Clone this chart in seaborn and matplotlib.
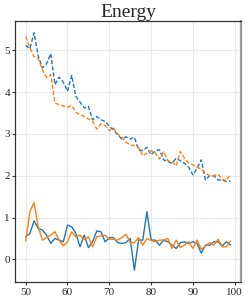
import numpy as np
import pandas as pd
import seaborn as sns
import matplotlib
matplotlib.use("Agg")
import matplotlib.pyplot as plt

steps = list(range(50, 100))

# upper pair (dashed)
blue_dashed = [5.12, 5.04, 5.42, 4.86, 4.58, 4.68, 4.92, 4.18, 4.36, 4.24,
               4.02, 4.40, 3.90, 3.76, 3.62, 3.66, 3.34, 3.42, 3.34, 3.30,
               3.18, 3.10, 2.98, 2.88, 2.93, 2.88, 2.92, 2.62, 2.60, 2.68,
               2.50, 2.60, 2.62, 2.38, 2.34, 2.30, 2.42, 2.36, 2.30, 2.20,
               2.02, 2.18, 2.38, 1.90, 2.00, 2.00, 1.90, 1.90, 1.86, 1.87]
orange_dashed = [5.33, 5.06, 4.85, 4.80, 4.54, 4.35, 4.42, 3.74, 3.70, 3.67,
                 3.64, 3.68, 3.52, 3.46, 3.42, 3.36, 3.30, 3.12, 3.24, 3.20,
                 3.08, 3.14, 3.00, 2.92, 2.80, 2.74, 2.72, 2.68, 2.48, 2.54,
                 2.60, 2.55, 2.40, 2.58, 2.36, 2.34, 2.24, 2.58, 2.42, 2.30,
                 2.26, 2.20, 2.16, 2.06, 2.00, 2.00, 2.04, 1.92, 1.88, 2.04]

# lower pair (solid)
blue_solid = [0.54, 0.62, 0.92, 0.74, 0.70, 0.58, 0.38, 0.50, 0.46, 0.42,
              0.82, 0.78, 0.62, 0.30, 0.58, 0.28, 0.42, 0.68, 0.66, 0.42,
              0.52, 0.52, 0.40, 0.38, 0.40, 0.50, -0.26, 0.46, 0.46, 1.14,
              0.46, 0.46, 0.34, 0.46, 0.42, 0.34, 0.26, 0.40, 0.42, 0.38,
              0.42, 0.38, 0.15, 0.34, 0.34, 0.42, 0.42, 0.32, 0.42, 0.34]
orange_solid = [0.44, 1.14, 1.36, 0.78, 0.46, 0.52, 0.58, 0.66, 0.46, 0.32,
                0.42, 0.66, 0.54, 0.58, 0.48, 0.54, 0.30, 0.54, 0.56, 0.58,
                0.48, 0.48, 0.46, 0.52, 0.60, 0.40, 0.40, 0.52, 0.34, 0.50,
                0.45, 0.42, 0.46, 0.46, 0.50, 0.26, 0.46, 0.28, 0.34, 0.42,
                0.26, 0.46, 0.24, 0.32, 0.40, 0.34, 0.48, 0.30, 0.30, 0.44]

sns.set_style("whitegrid", {"axes.edgecolor": "#333333", "grid.color": "#e8e8e8"})
plt.rcParams["font.family"] = ["Liberation Serif", "DejaVu Serif"]

fig = plt.figure(figsize=(2.49, 3.03), dpi=100)
ax = fig.add_axes([0.062, 0.069, 0.905, 0.862])

blue, orange = "#1f77b4", "#ff7f0e"
sns.lineplot(x=steps, y=blue_dashed, ax=ax, color=blue, lw=1.0, linestyle=(0, (3, 1.5)))
sns.lineplot(x=steps, y=orange_dashed, ax=ax, color=orange, lw=1.0, linestyle=(0, (3, 1.5)))
sns.lineplot(x=steps, y=blue_solid, ax=ax, color=blue, lw=1.0)
sns.lineplot(x=steps, y=orange_solid, ax=ax, color=orange, lw=1.0)

ax.set_title("Energy", fontsize=14, pad=3)
ax.set_xticks([50, 60, 70, 80, 90, 100])
ax.set_yticks([0, 1, 2, 3, 4, 5])
ax.tick_params(labelsize=8, pad=2, length=2, width=0.8, color="#333333",
               bottom=True, left=True)
for s in ax.spines.values():
    s.set_linewidth(0.9)
ax.spines["right"].set_color("#999999")
ax.spines["right"].set_linewidth(1.6)

fig.savefig("out.png", dpi=100)
